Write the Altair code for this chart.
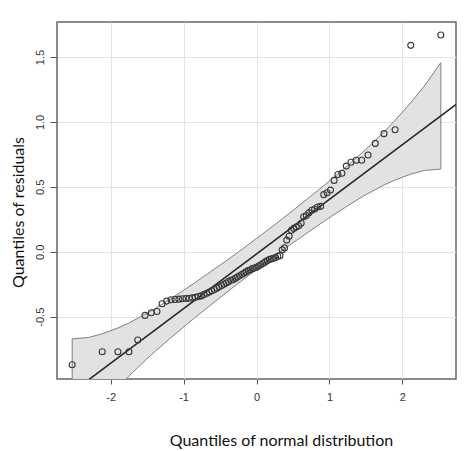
import altair as alt
import pandas as pd

# Theoretical normal quantiles (x) and sorted residuals (y)
qx = [-2.527, -2.115, -1.900, -1.748, -1.628, -1.529, -1.442, -1.365, -1.295, -1.231,
      -1.171, -1.116, -1.064, -1.014, -0.967, -0.922, -0.879, -0.838, -0.797, -0.758,
      -0.720, -0.683, -0.647, -0.612, -0.578, -0.544, -0.511, -0.478, -0.447, -0.415,
      -0.384, -0.353, -0.322, -0.292, -0.262, -0.233, -0.203, -0.174, -0.145, -0.116,
      -0.087, -0.058, -0.029, 0.000, 0.029, 0.058, 0.087, 0.116, 0.145, 0.174,
      0.203, 0.233, 0.262, 0.292, 0.322, 0.353, 0.384, 0.415, 0.447, 0.478,
      0.511, 0.544, 0.578, 0.612, 0.647, 0.683, 0.720, 0.758, 0.797, 0.838,
      0.879, 0.922, 0.967, 1.014, 1.064, 1.116, 1.171, 1.231, 1.295, 1.365,
      1.442, 1.529, 1.628, 1.748, 1.900, 2.115, 2.527]
qy = [-0.87, -0.77, -0.77, -0.77, -0.68, -0.49, -0.47, -0.46, -0.40, -0.38,
      -0.37, -0.368, -0.365, -0.362, -0.36, -0.358, -0.355, -0.35, -0.345, -0.34,
      -0.33, -0.32, -0.31, -0.30, -0.29, -0.28, -0.27, -0.26, -0.25, -0.24,
      -0.23, -0.22, -0.215, -0.205, -0.195, -0.185, -0.175, -0.165, -0.155, -0.145,
      -0.14, -0.13, -0.125, -0.12, -0.11, -0.10, -0.09, -0.08, -0.07, -0.06,
      -0.055, -0.05, -0.045, -0.035, -0.03, 0.015, 0.03, 0.09, 0.12, 0.165,
      0.18, 0.19, 0.20, 0.22, 0.27, 0.28, 0.30, 0.32, 0.33, 0.345,
      0.35, 0.44, 0.455, 0.475, 0.55, 0.595, 0.605, 0.66, 0.69, 0.705,
      0.705, 0.745, 0.835, 0.91, 0.94, 1.59, 1.67]

# Confidence envelope
band_x = [-2.527, -2.3, -2.115, -1.9, -1.75, -1.628, -1.5, -1.365, -1.2, -1.014,
          -0.85, -0.683, -0.5, -0.353, -0.18, 0.0, 0.18, 0.353, 0.5, 0.683,
          0.85, 1.014, 1.2, 1.365, 1.5, 1.628, 1.75, 1.9, 2.115, 2.3, 2.527]
band_hi = [-0.671, -0.660, -0.632, -0.587, -0.549, -0.512, -0.474, -0.429, -0.370, -0.302,
           -0.240, -0.175, -0.103, -0.044, 0.027, 0.103, 0.179, 0.254, 0.319, 0.401,
           0.476, 0.552, 0.640, 0.721, 0.790, 0.858, 0.925, 1.013, 1.148, 1.276, 1.457]
band_lo = [-1.491, -1.310, -1.182, -1.047, -0.959, -0.892, -0.824, -0.755, -0.674, -0.586,
           -0.510, -0.435, -0.353, -0.288, -0.213, -0.137, -0.061, 0.010, 0.069, 0.141,
           0.206, 0.268, 0.336, 0.395, 0.440, 0.478, 0.515, 0.553, 0.598, 0.626, 0.637]

# Reference line end points
line_x = [-2.8, 2.8]
line_y = [-1.196, 1.162]

pts = pd.DataFrame({"x": qx, "y": qy})
band = pd.DataFrame({"x": band_x, "lo": band_lo, "hi": band_hi})
ref = pd.DataFrame({"x": line_x, "y": line_y})

xscale = alt.Scale(domain=[-2.735, 2.735], nice=False, zero=False)
yscale = alt.Scale(domain=[-0.98, 1.77], nice=False, zero=False)

FONT = "Liberation Sans"
TFONT = "Lato"

xaxis = alt.Axis(
    values=[-2, -1, 0, 1, 2], labelExpr="replace(format(datum.value, 'd'), '\u2212', '-')",
    title="Quantiles of normal distribution", titleFont=TFONT, titleFontSize=16,
    titleFontWeight="normal", titleColor="#111", titleX=224, titleY=66,
    titleBaseline="alphabetic", titleAlign="center", titleAnchor="start",
    labelFont=FONT, labelFontSize=11, labelColor="#333", labelPadding=7,
    tickSize=5, tickColor="#555", domain=False,
    grid=True, gridColor="#e4e4e4", gridWidth=1,
)
yaxis = alt.Axis(
    values=[-0.5, 0, 0.5, 1, 1.5], labelExpr="replace(format(datum.value, '.1f'), '\u2212', '-')",
    title="Quantiles of residuals", titleFont=TFONT, titleFontSize=16,
    titleFontWeight="normal", titleColor="#111", titleX=-39, titleY=190,
    titleAngle=-90, titleAlign="center", titleBaseline="middle", titleAnchor="start",
    labelFont=FONT, labelFontSize=11, labelColor="#333", labelAngle=-90,
    labelAlign="center", labelBaseline="bottom", labelPadding=5,
    tickSize=7, tickColor="#555", domain=False,
    grid=True, gridColor="#e4e4e4", gridWidth=1,
)

area = alt.Chart(band).mark_area(
    fill="#e1e2e2", stroke="#808080", strokeWidth=1, clip=True
).encode(
    x=alt.X("x:Q", scale=xscale, axis=xaxis),
    y=alt.Y("lo:Q", scale=yscale, axis=yaxis),
    y2="hi:Q",
)

line = alt.Chart(ref).mark_line(color="#2a2a2a", strokeWidth=1.6, clip=True).encode(
    x=alt.X("x:Q", scale=xscale),
    y=alt.Y("y:Q", scale=yscale),
)

points = alt.Chart(pts).mark_point(
    shape="circle", filled=False, stroke="#3a3a3a", strokeWidth=1.1, size=36, opacity=1, clip=True
).encode(
    x=alt.X("x:Q", scale=xscale),
    y=alt.Y("y:Q", scale=yscale),
)

chart = (area + line + points).properties(
    width=399, height=357,
    autosize=alt.AutoSizeParams(type="none"),
    padding={"left": 49, "top": 14, "right": 10, "bottom": 71},
    background="white",
).configure_view(stroke="#666", strokeWidth=1.5)

chart.save("out.html", embed_options={"renderer": "svg", "actions": False})
